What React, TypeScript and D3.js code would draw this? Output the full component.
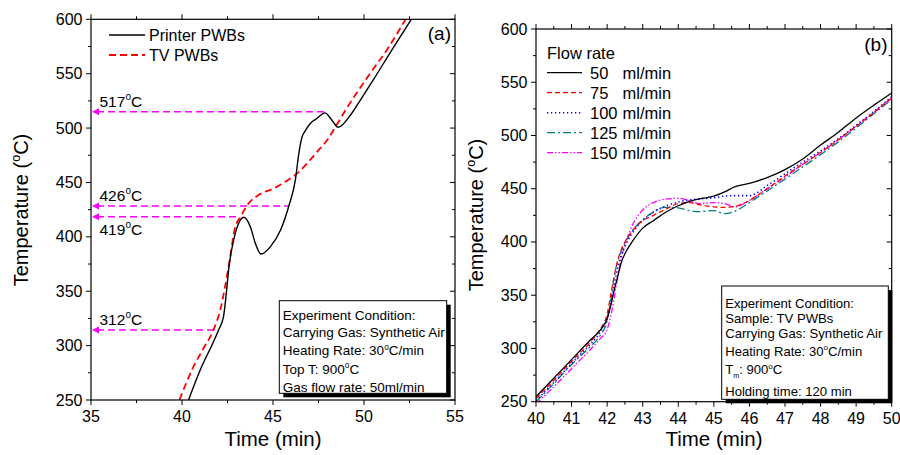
import React from "react";
import * as d3 from "d3";

// ---------- Panel (a) data ----------
const printerTime = [40.36, 41.0, 41.73, 42.0, 42.28, 42.47, 42.56, 42.84, 43.1, 43.39, 43.76, 44.03, 44.34, 44.86, 45.41, 45.87, 46.23, 46.42, 46.6, 46.78, 47.06, 47.43, 47.85, 48.25, 48.58, 49.26, 49.8, 50.5, 51.5, 52.6];
const printerTemp = [250, 277.6, 303.6, 314, 326.6, 354, 369.5, 397, 412, 418, 409, 394, 384.2, 391, 406, 428.4, 452.3, 476.8, 492, 497.6, 504.4, 509, 514, 507, 500.7, 512, 525.8, 544, 571, 600];
const tvTime = [39.86, 40.63, 41.2, 41.73, 42.1, 42.56, 42.93, 43.2, 43.66, 44.21, 45.04, 45.68, 46.33, 46.88, 47.43, 47.98, 48.44, 48.99, 50.2, 51.3, 52.29];
const tvTemp = [250, 280.6, 298, 314.4, 332.7, 372.5, 409.3, 418, 430.8, 438.5, 444.6, 450.7, 458.4, 467.6, 478.3, 489, 501.3, 516.6, 547, 573, 600];

const annoTemps = [515, 428.4, 418.5, 314.4];
const annoEndTimes = [47.85, 45.87, 43.2, 42.0];
const annoLabels = ["517", "426", "419", "312"];
const annoLabelAbove = [true, true, false, true];

const legendA = ["Printer PWBs", "TV PWBs"];
const boxA = ["Experiment Condition:", "Carrying Gas: Synthetic Air", "Heating Rate: 30|C/min", "Top T: 900|C", "Gas flow rate: 50ml/min"];

// ---------- Panel (b) data ----------
const timeB = [40, 40.5, 41, 41.5, 41.8, 42, 42.1, 42.2, 42.3, 42.4, 42.5, 42.7, 43, 43.3, 43.6, 44, 44.3, 44.6, 45, 45.3, 45.6, 46, 46.5, 47, 47.5, 48, 48.5, 49, 49.5, 50];
const flow50 = [254.7, 272, 289.5, 307, 317, 328, 340, 355, 368, 381, 389, 400, 413, 420, 427, 434, 438, 440.5, 443, 447, 452, 455, 460.5, 468, 478, 491, 503, 516.5, 528.5, 540];
const flow75 = [253, 270, 288, 305, 318, 332, 350, 368, 383, 393, 400, 410, 420, 425, 430, 436, 437, 435, 433, 432.5, 433.5, 439, 450, 462, 473, 484, 496, 508.5, 521.5, 535];
const flow100 = [251, 268, 286, 303, 315, 328, 342, 360, 376, 388, 396, 408, 420, 428, 433, 437.5, 439.5, 440.5, 441.5, 443, 443.5, 443.5, 453, 464, 475, 485.5, 497, 509.5, 522.5, 536.5];
const flow125 = [250, 267, 285, 301, 312, 326, 345, 368, 382, 392, 399, 410, 421, 428, 432.5, 432, 429.5, 428.5, 429.5, 426.7, 429, 437, 448, 459, 470.5, 482, 494, 507, 520.5, 534];
const flow150 = [248, 264, 281, 298, 309, 318, 330, 348, 368, 385, 397, 415, 430, 437, 440, 441, 439, 436, 437, 436, 433, 439, 450, 461, 473, 484, 496, 509, 522, 535.5];
const flowLabels = ["50", "75", "100", "125", "150"];
const flowColors = ["#000000", "#ff0000", "#0000ff", "#008080", "#ff00ff"];
const flowDash = ["", "5,3", "1.3,2.7", "8,3,2,3", "6,2,1.5,2,1.5,2"];
const boxB = ["Experiment Condition:", "Sample: TV PWBs", "Carrying Gas: Synthetic Air", "Heating Rate: 30|C/min", "T_m: 900|C", "Holding time: 120 min"];

const FONT = "'Liberation Sans', Arial, Helvetica, sans-serif";
const TICK_FS = 16;

type Axes = {
  x: d3.ScaleLinear<number, number>;
  y: d3.ScaleLinear<number, number>;
  xMajor: number[];
  xMinor: number[];
  yMajor: number[];
  yMinor: number[];
};

function Frame({ ax }: { ax: Axes }) {
  const { x, y } = ax;
  const [x0, x1] = x.range();
  const [y1, y0] = y.range();
  const els: React.ReactNode[] = [];
  ax.xMajor.forEach((t, i) => {
    const px = x(t);
    els.push(<line key={"xb" + i} x1={px} x2={px} y1={y1} y2={y1 + 5} stroke="#000" />);
    els.push(<line key={"xt" + i} x1={px} x2={px} y1={y0} y2={y0 - 5} stroke="#000" />);
    els.push(
      <text key={"xl" + i} x={px} y={y1 + 22} textAnchor="middle" fontSize={TICK_FS}>
        {t}
      </text>
    );
  });
  ax.xMinor.forEach((t, i) => {
    const px = x(t);
    els.push(<line key={"xbm" + i} x1={px} x2={px} y1={y1} y2={y1 + 3} stroke="#000" />);
    els.push(<line key={"xtm" + i} x1={px} x2={px} y1={y0} y2={y0 - 3} stroke="#000" />);
  });
  ax.yMajor.forEach((t, i) => {
    const py = y(t);
    els.push(<line key={"yl" + i} x1={x0 - 5} x2={x0} y1={py} y2={py} stroke="#000" />);
    els.push(<line key={"yr" + i} x1={x1 - 5} x2={x1} y1={py} y2={py} stroke="#000" />);
    els.push(
      <text key={"yt" + i} x={x0 - 8.5} y={py + 5.5} textAnchor="end" fontSize={TICK_FS}>
        {t}
      </text>
    );
  });
  ax.yMinor.forEach((t, i) => {
    const py = y(t);
    els.push(<line key={"ylm" + i} x1={x0 - 3} x2={x0} y1={py} y2={py} stroke="#000" />);
    els.push(<line key={"yrm" + i} x1={x1 - 3} x2={x1} y1={py} y2={py} stroke="#000" />);
  });
  return (
    <g>
      <rect x={x0} y={y0} width={x1 - x0} height={y1 - y0} fill="none" stroke="#000" strokeWidth={1.2} />
      {els}
    </g>
  );
}

function Deg({ text, fs }: { text: string; fs: number }) {
  // "|" marks a superscript "o"; "_m" marks a subscript m
  const parts: React.ReactNode[] = [];
  let key = 0;
  let pendingDy = 0;
  const push = (content: string, opts: { size?: number; dy?: number }) => {
    const dy = (opts.dy ?? 0) + pendingDy;
    pendingDy = 0;
    parts.push(
      <tspan key={key++} fontSize={opts.size} dy={dy !== 0 ? dy : undefined}>
        {content}
      </tspan>
    );
  };
  const segs = text.split("|");
  segs.forEach((s, i) => {
    if (i > 0) {
      push("o", { size: fs * 0.62, dy: -fs * 0.42 });
      pendingDy = fs * 0.42;
    }
    const sub = s.split("_m");
    sub.forEach((ss, j) => {
      if (j > 0) {
        push("m", { size: fs * 0.55, dy: fs * 0.25 });
        pendingDy = -fs * 0.25;
      }
      if (ss.length) push(ss, {});
    });
  });
  return <>{parts}</>;
}

function InfoBox({ lines, x, y, w, h, offsets, fs }: { lines: string[]; x: number; y: number; w: number; h: number; offsets: number[]; fs: number }) {
  return (
    <g>
      <rect x={x + 4} y={y + 4} width={w} height={h} fill="#000" />
      <rect x={x} y={y} width={w} height={h} fill="#fff" stroke="#000" strokeWidth={1} />
      {lines.map((l, i) => (
        <text key={i} x={x + 3.5} y={y + offsets[i]} fontSize={fs}>
          <Deg text={l} fs={fs} />
        </text>
      ))}
    </g>
  );
}

function YTitle({ cx, cy }: { cx: number; cy: number }) {
  return (
    <text transform={`translate(${cx},${cy}) rotate(-90)`} textAnchor="middle" fontSize={20}>
      <tspan>Temperature (</tspan>
      <tspan fontSize={12.5} dy={-8}>
        o
      </tspan>
      <tspan dy={8}>C)</tspan>
    </text>
  );
}

function PanelA() {
  const x = d3.scaleLinear().domain([35, 55]).range([91, 455]);
  const y = d3.scaleLinear().domain([250, 600]).range([400, 19.3]);
  const ax: Axes = {
    x,
    y,
    xMajor: d3.range(35, 55.01, 5),
    xMinor: d3.range(37.5, 55, 5),
    yMajor: d3.range(250, 600.01, 50),
    yMinor: d3.range(275, 600, 50),
  };
  const line = d3
    .line<[number, number]>()
    .x((d) => x(d[0]))
    .y((d) => y(d[1]))
    .curve(d3.curveMonotoneX);
  const printer = line(printerTime.map((t, i) => [t, printerTemp[i]]) as [number, number][]);
  const tv = line(tvTime.map((t, i) => [t, tvTemp[i]]) as [number, number][]);
  return (
    <g>
      <defs>
        <clipPath id="clipA">
          <rect x={91} y={19.3} width={364} height={380.7} />
        </clipPath>
      </defs>
      {annoTemps.map((v, i) => {
        const py = y(v);
        const x0 = x(35);
        return (
          <g key={i}>
            <line x1={x0 + 6} x2={x(annoEndTimes[i])} y1={py} y2={py} stroke="#ff00ff" strokeWidth={1.4} strokeDasharray="7,4" />
            <path d={`M${x0 + 1},${py} L${x0 + 8},${py - 3.5} L${x0 + 8},${py + 3.5} Z`} fill="#ff00ff" />
            <text x={x0 + 8.5} y={annoLabelAbove[i] ? py - 5 : py + 18} fontSize={15.5}>
              <tspan>{annoLabels[i]}</tspan>
              <tspan fontSize={10} dy={-6.5}>
                o
              </tspan>
              <tspan dy={6.5}>C</tspan>
            </text>
          </g>
        );
      })}
      <g clipPath="url(#clipA)">
        <path d={tv ?? ""} fill="none" stroke="#ff0000" strokeWidth={1.8} strokeDasharray="7,4" />
        <path d={printer ?? ""} fill="none" stroke="#000" strokeWidth={1.4} />
      </g>
      <Frame ax={ax} />
      <line x1={109} x2={145} y1={35} y2={35} stroke="#000" strokeWidth={1.4} />
      <line x1={109} x2={145} y1={55} y2={55} stroke="#ff0000" strokeWidth={1.8} strokeDasharray="7,4" />
      <text x={149} y={40.8} fontSize={16}>
        {legendA[0]}
      </text>
      <text x={149} y={60.8} fontSize={16}>
        {legendA[1]}
      </text>
      <text x={451} y={40} fontSize={19} textAnchor="end">
        (a)
      </text>
      <InfoBox lines={boxA} x={279.3} y={300.7} w={167.4} h={92.6} offsets={[18.8, 36.2, 54.5, 73.3, 91]} fs={13.5} />
      <YTitle cx={28} cy={210} />
      <text x={273} y={446} textAnchor="middle" fontSize={20.5}>
        Time (min)
      </text>
    </g>
  );
}

function PanelB() {
  const x = d3.scaleLinear().domain([40, 50]).range([536, 891.7]);
  const y = d3.scaleLinear().domain([250, 600]).range([401.7, 29]);
  const ax: Axes = {
    x,
    y,
    xMajor: d3.range(40, 50.01, 1),
    xMinor: d3.range(40.5, 50, 1),
    yMajor: d3.range(250, 600.01, 50),
    yMinor: d3.range(275, 600, 50),
  };
  const line = d3
    .line<[number, number]>()
    .x((d) => x(d[0]))
    .y((d) => y(d[1]))
    .curve(d3.curveMonotoneX);
  const series = [flow50, flow75, flow100, flow125, flow150];
  return (
    <g>
      <defs>
        <clipPath id="clipB">
          <rect x={536} y={29} width={355.7} height={372.7} />
        </clipPath>
      </defs>
      <g clipPath="url(#clipB)">
        {series
          .map((s, k) => ({ s, k }))
          .reverse()
          .map(({ s, k }) => (
            <path
              key={k}
              d={line(timeB.map((t, i) => [t, s[i]]) as [number, number][]) ?? ""}
              fill="none"
              stroke={flowColors[k]}
              strokeWidth={k === 2 ? 1.6 : 1.3}
              strokeDasharray={flowDash[k]}
            />
          ))}
      </g>
      <Frame ax={ax} />
      <text x={547} y={58.5} fontSize={16.5}>
        Flow rate
      </text>
      {flowLabels.map((l, k) => {
        const yy = 72.7 + k * 20;
        return (
          <g key={k}>
            <line x1={547} x2={582} y1={yy} y2={yy} stroke={flowColors[k]} strokeWidth={k === 2 ? 1.6 : 1.3} strokeDasharray={flowDash[k]} />
            <text x={590} y={yy + 6} fontSize={16.5}>
              {l}
            </text>
            <text x={622.5} y={yy + 6} fontSize={16.5}>
              ml/min
            </text>
          </g>
        );
      })}
      <text x={887.5} y={51} fontSize={19} textAnchor="end">
        (b)
      </text>
      <InfoBox lines={boxB} x={721.7} y={286} w={166.6} h={113.3} offsets={[22, 36.5, 51.5, 70, 88.3, 110]} fs={13.1} />
      <YTitle cx={483} cy={215} />
      <text x={714} y={446} textAnchor="middle" fontSize={20.5}>
        Time (min)
      </text>
    </g>
  );
}

export default function App() {
  return (
    <svg
      width={900}
      height={455}
      viewBox="0 0 900 455"
      style={{ position: "absolute", left: 0, top: 0, background: "#fff" }}
      fontFamily={FONT}
    >
      <rect width={900} height={455} fill="#fff" />
      <PanelA />
      <PanelB />
    </svg>
  );
}
